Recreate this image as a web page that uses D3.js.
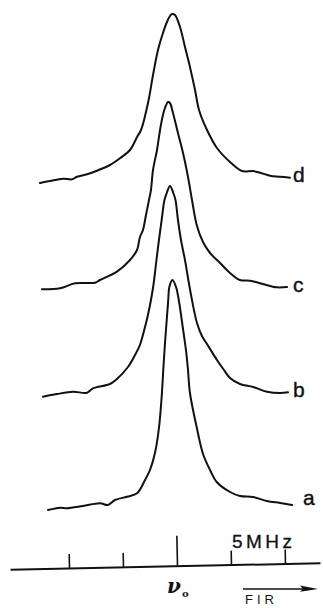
<!DOCTYPE html>
<html><head><meta charset="utf-8">
<script src="https://cdn.jsdelivr.net/npm/d3@7"></script>
<style>html,body{margin:0;padding:0;background:#fff;}svg{display:block;}</style>
</head><body>
<svg id="chart" width="323" height="608"></svg>
<script>
// Frequency offset from nu0 (MHz) vs. relative intensity (arb. units)
const traceA = [[-11.94,0.0],[-10.83,0.23],[-10.19,0.17],[-8.70,0.4],[-7.13,0.67],[-6.39,0.5],[-5.74,1.0],[-4.63,1.33],[-3.70,1.67],[-2.96,3.0],[-2.50,4.0],[-2.04,5.7],[-1.67,8.2],[-1.42,11.3],[-1.27,14.0],[-1.11,16.7],[-0.95,19.0],[-0.81,21.0],[-0.71,22.3],[-0.42,23.0],[-0.09,22.3],[0.21,20.7],[0.53,18.3],[0.83,16.0],[1.02,14.0],[1.20,11.7],[1.82,8.3],[2.41,5.6],[3.06,4.0],[3.68,2.8],[4.91,1.8],[5.83,1.4],[7.04,1.3],[8.33,0.9],[9.54,0.7],[10.65,0.5]];
const traceB = [[-12.41,-0.17],[-11.11,0.1],[-9.63,0.33],[-8.33,0.23],[-7.78,0.67],[-6.20,1.1],[-5.56,1.6],[-4.54,2.8],[-3.89,4.0],[-3.43,5.0],[-2.96,6.8],[-2.69,8.0],[-2.41,9.5],[-2.18,11.0],[-1.90,13.5],[-1.67,15.5],[-1.42,17.5],[-1.16,19.5],[-0.95,20.2],[-0.65,20.9],[-0.34,20.2],[-0.14,19.5],[0.09,17.5],[0.37,15.5],[0.74,13.5],[1.05,11.5],[1.30,10.0],[1.57,8.5],[1.85,7.2],[2.31,5.9],[2.78,5.1],[3.70,3.5],[4.35,2.5],[4.91,1.7],[5.83,1.1],[7.04,0.8],[8.33,0.33],[9.54,0.2],[10.28,0.27]];
const traceC = [[-12.5,-0.13],[-10.83,-0.03],[-9.44,0.47],[-7.59,0.53],[-7.13,0.8],[-5.56,1.63],[-4.35,2.8],[-3.70,3.8],[-3.43,5.1],[-3.15,5.8],[-2.87,7.3],[-2.59,8.8],[-2.41,9.8],[-2.22,11.8],[-1.85,13.8],[-1.57,15.8],[-1.30,17.3],[-1.11,18.0],[-0.83,18.6],[-0.65,18.5],[-0.37,17.5],[0.09,15.5],[0.56,13.5],[1.02,11.1],[1.39,8.8],[1.85,6.2],[2.41,4.6],[3.06,3.5],[3.98,2.5],[4.91,1.5],[5.83,0.8],[6.76,0.73],[7.96,0.4],[9.22,0.07],[10.19,0.1]];
const traceD = [[-12.69,-0.2],[-11.76,0.0],[-10.56,0.23],[-9.72,0.17],[-9.26,0.43],[-8.33,0.67],[-7.41,1.03],[-6.20,1.6],[-5.28,2.27],[-4.35,3.1],[-3.70,4.4],[-3.33,5.1],[-2.87,6.9],[-2.59,8.3],[-2.22,10.6],[-1.76,13.1],[-1.30,14.8],[-0.93,15.9],[-0.65,16.5],[-0.46,16.7],[-0.19,16.6],[0.28,15.4],[0.74,13.4],[1.20,11.4],[1.67,9.1],[2.04,7.1],[2.78,5.1],[3.70,3.3],[4.91,1.9],[6.02,1.0],[7.04,1.0],[7.69,0.83],[8.61,0.53],[9.54,0.43],[10.46,0.33]];
const traceNames = ["a","b","c","d"];
const traceOffsets = [6.0, 17.5, 28.2, 38.9];
const tickValues = [-10, -5, 5, 10];
const centerTick = [0];
const scaleLabel = "5MHz";
const arrowLabel = "FIR";

const traces = [traceA, traceB, traceC, traceD];
const svg = d3.select("#chart");
const x = d3.scaleLinear().domain([-15.46, 13.24]).range([10, 320]);
const y = d3.scaleLinear().domain([0, 57]).range([570, 0]);
const ink = "#111";

const line = d3.line().curve(d3.curveCatmullRom.alpha(0.5));
traces.forEach((tr, i) => {
  svg.append("path")
    .attr("d", line(tr.map(p => [x(p[0]), y(p[1] + traceOffsets[i])])))
    .attr("fill", "none").attr("stroke", ink).attr("stroke-width", 2)
    .attr("stroke-linejoin", "round").attr("stroke-linecap", "round");
});

// trace labels, placed just after each trace's last point
const labelDx = [11, 5, 6, 3];
const labelDy = [0, 5, 5, 4];
traces.forEach((tr, i) => {
  const last = tr[tr.length - 1];
  svg.append("text")
    .attr("x", x(last[0]) + labelDx[i])
    .attr("y", y(last[1] + traceOffsets[i]) + labelDy[i])
    .attr("font-family", "Liberation Sans, Arial, sans-serif")
    .attr("font-size", 21).attr("fill", ink)
    .attr("stroke", ink).attr("stroke-width", 0.4)
    .text(traceNames[i]);
});

// frequency axis (slightly tilted, as in the scanned figure)
const ax = svg.append("g").attr("transform", "translate(0,566) rotate(-1.2,165,0)");
ax.append("g").call(d3.axisTop(x).tickValues(tickValues).tickSize(14).tickSizeOuter(0).tickFormat(""));
ax.append("g").call(d3.axisTop(x).tickValues(centerTick).tickSize(30).tickSizeOuter(0).tickFormat(""));
ax.selectAll(".domain").attr("stroke", ink).attr("stroke-width", 2);
ax.selectAll(".tick line").attr("stroke", ink).attr("stroke-width", 1.6);
ax.selectAll("g").filter((d,i,n)=>i>0).select(".domain").remove();

svg.append("text").attr("x", x(5) + 1).attr("y", 548)
  .attr("font-family", "Liberation Sans, Arial, sans-serif").attr("font-size", 19)
  .attr("stroke", ink).attr("stroke-width", 0.3)
  .attr("textLength", 60).attr("lengthAdjust", "spacing").attr("fill", ink).text(scaleLabel);

const nu = svg.append("text").attr("x", x(0) - 10).attr("y", 593)
  .attr("font-family", "DejaVu Serif, serif").attr("font-style", "italic").attr("font-weight", "bold")
  .attr("font-size", 20).attr("fill", ink);
nu.append("tspan").text("ν");
nu.append("tspan").attr("font-size", 10).attr("font-style", "normal").attr("dy", 4).attr("dx", 1).text("o");

// FIR direction arrow
svg.append("line").attr("x1", 243).attr("x2", 312).attr("y1", 589).attr("y2", 589)
  .attr("stroke", ink).attr("stroke-width", 1.6);
svg.append("path").attr("d", d3.line()([[300,585.5],[318,589],[300,591.8],[303,589]])+"Z").attr("fill", ink);
svg.append("text").attr("x", 245).attr("y", 604)
  .attr("font-family", "Liberation Sans, Arial, sans-serif").attr("font-size", 13)
  .attr("letter-spacing", 4).attr("fill", ink).text(arrowLabel);
</script>
</body></html>
